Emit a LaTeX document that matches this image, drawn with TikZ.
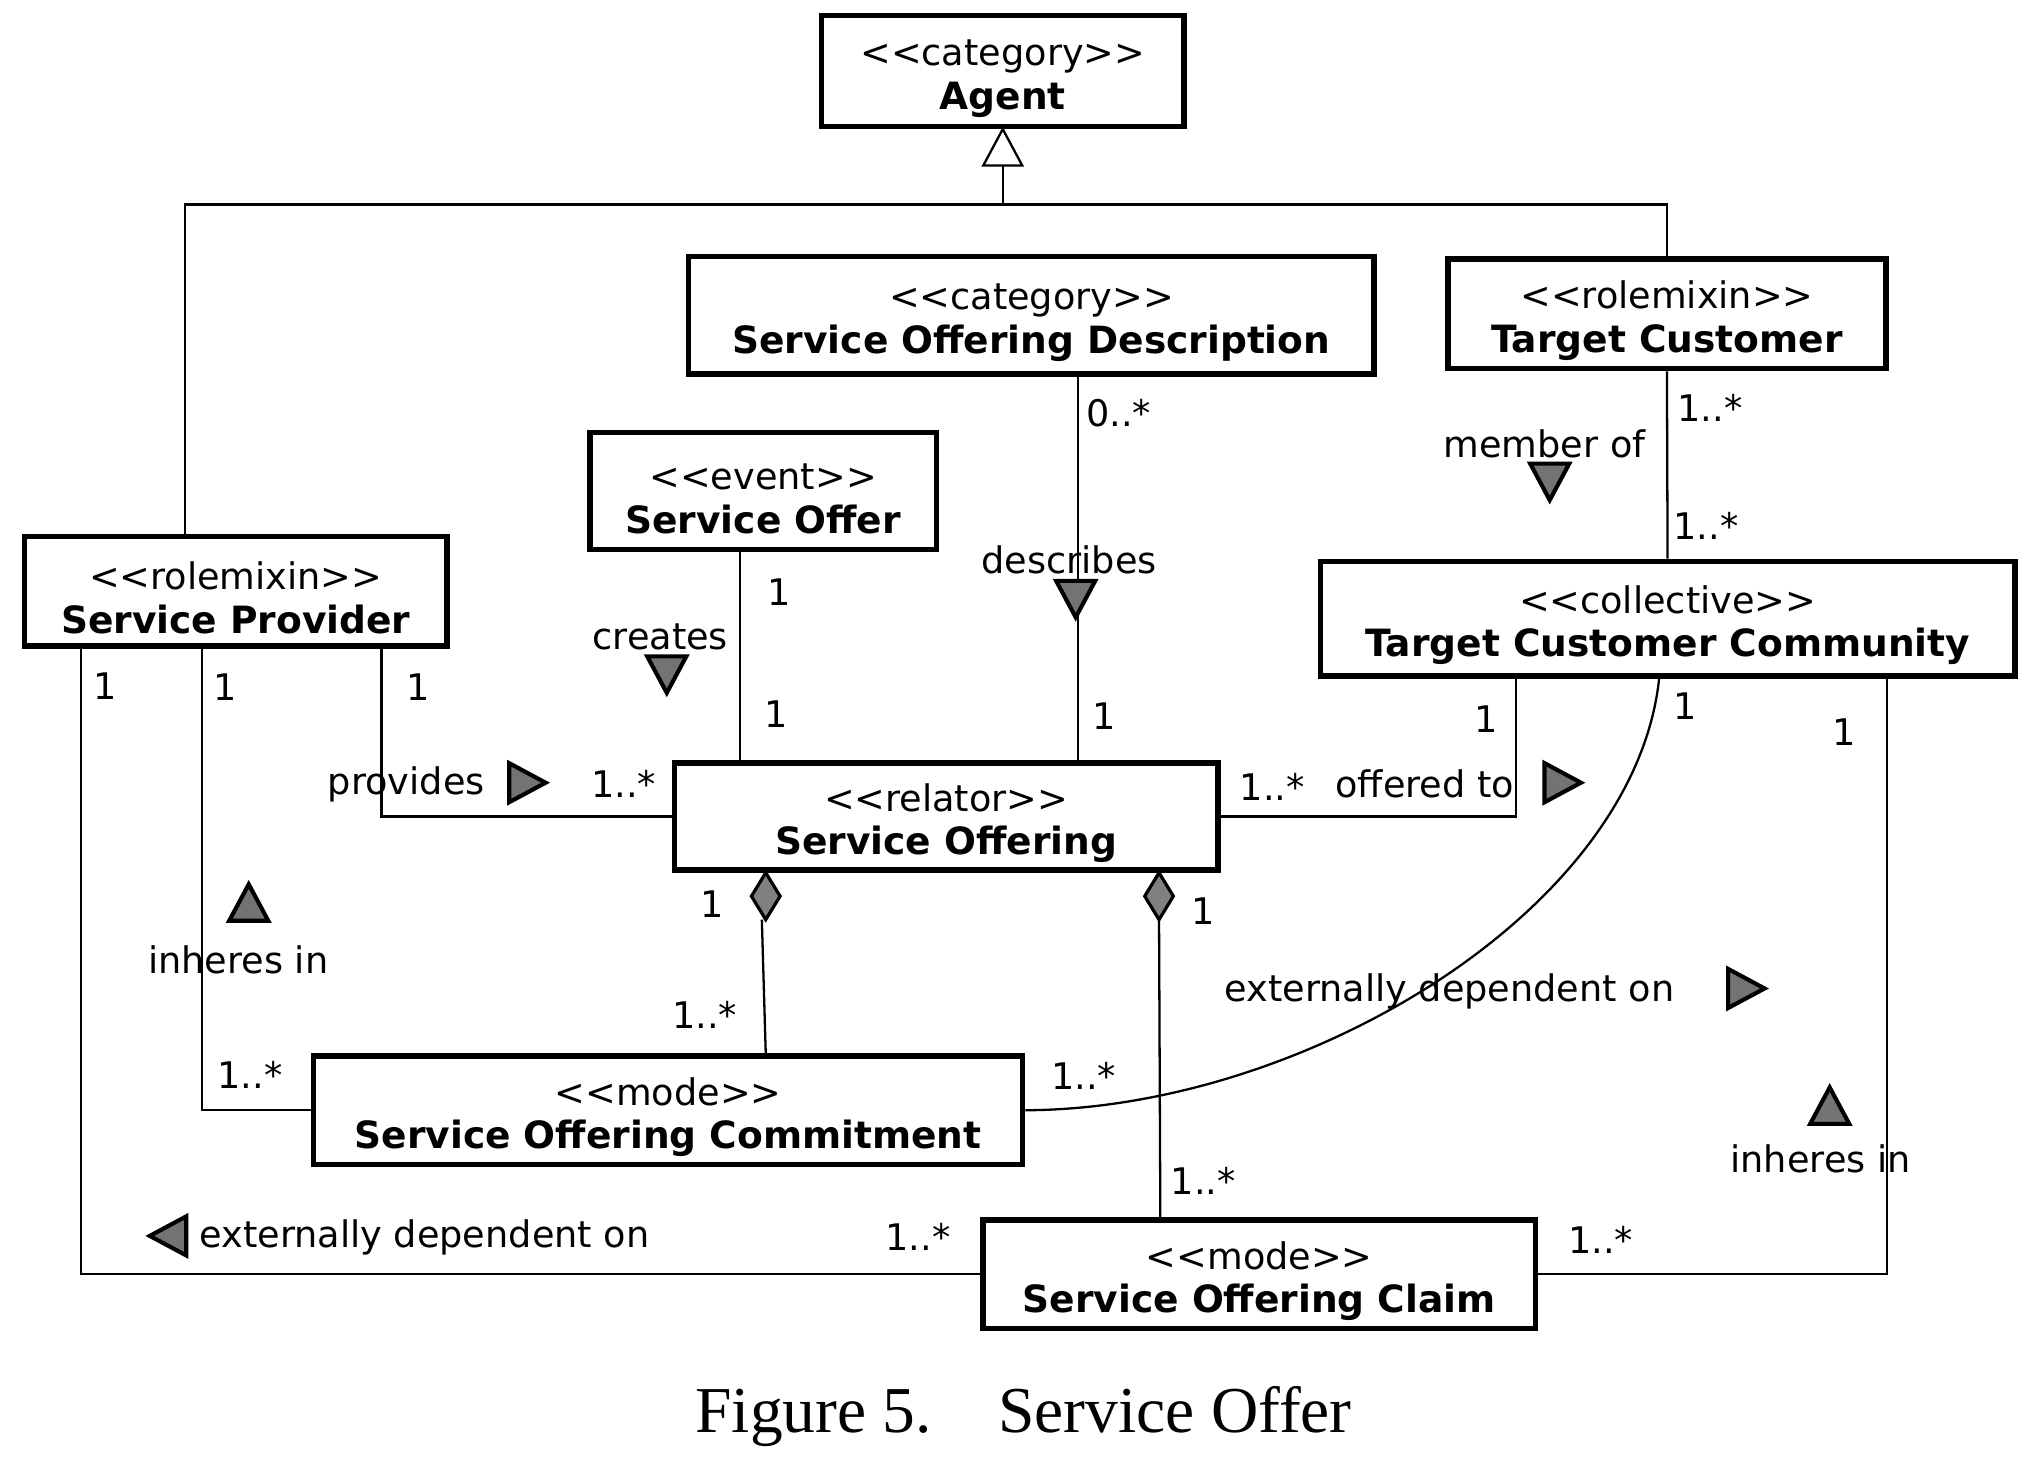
\documentclass[tikz,border=0pt]{standalone}
\usepackage{fontspec}
\setmainfont{DejaVu Sans}
\newfontfamily\capfont{Liberation Serif}
\usetikzlibrary{calc}
\newcommand\stt[1]{\rule{0pt}{9pt}<{}<#1>{}>}
\newcommand\nmm[1]{{\fontsize{8.2}{9.5}\selectfont\bfseries #1}}
\begin{document}
\begin{tikzpicture}[x=0.01cm,y=-0.01cm,
 box/.style={draw, line width=1.2pt, inner sep=0pt, align=center, fill=white, font=\fontsize{8}{9.5}\selectfont},
 conn/.style={line width=0.5pt},
 lab/.style={inner sep=0pt, font=\fontsize{8}{9.5}\selectfont},
 tri/.style={draw, line width=0.9pt, fill=black!55, line join=miter},
 dia/.style={draw, line width=0.7pt, fill=black!50},
 dtri/.pic={\draw[tri] (-12,-15) -- (16,0) -- (-12,15) -- cycle;}
]
\useasboundingbox (0,0) rectangle (1568,1120);

% boxes
\node[box, minimum width=2.78cm, minimum height=0.85cm] (agent) at (770,54.5) {\stt{category}\\\nmm{Agent}};
\node[box, minimum width=5.26cm, minimum height=0.90cm] (sod) at (792,242) {\stt{category}\\\nmm{Service Offering Description}};
\node[box, minimum width=3.36cm, minimum height=0.84cm] (tc) at (1280,241) {\stt{rolemixin}\\\nmm{Target Customer}};
\node[box, minimum width=2.66cm, minimum height=0.90cm] (sof) at (586,377) {\stt{event}\\\nmm{Service Offer}};
\node[box, minimum width=3.24cm, minimum height=0.84cm] (sp) at (181,454) {\stt{rolemixin}\\\nmm{Service Provider}};
\node[box, minimum width=5.33cm, minimum height=0.88cm] (tcc) at (1280.5,475) {\stt{collective}\\\nmm{Target Customer Community}};
\node[box, minimum width=4.17cm, minimum height=0.82cm] (so) at (726.5,627) {\stt{relator}\\\nmm{Service Offering}};
\node[box, minimum width=5.44cm, minimum height=0.83cm] (soc) at (513,852.5) {\stt{mode}\\\nmm{Service Offering Commitment}};
\node[box, minimum width=4.24cm, minimum height=0.83cm] (claim) at (967,978.5) {\stt{mode}\\\nmm{Service Offering Claim}};

% generalization
\coordinate (gbase) at ($(agent.south)+(0,28)$);
\draw[conn, fill=white] (agent.south) -- ($(gbase)+(-15,0)$) -- ($(gbase)+(15,0)$) -- cycle;
\draw[conn] (gbase) -- (gbase |- 0,157);
\draw[conn] (sp.north -| 142,0) -- (142,157) -| (tc.north);

% describes
\draw[conn] (sod.south -| 828,0) -- (so.north -| 828,0);
\node[lab] (l1) at (859,317) {0..*};
\node[lab] (l2) at (821,430) {describes};
\pic[rotate=-90] at (826,458) {dtri};
\node[lab] (l3) at (848,550) {1};

% creates
\draw[conn] (sof.south -| 568,0) -- (so.north -| 568,0);
\node[lab] (l4) at (598,455) {1};
\node[lab] (l5) at (596,548) {1};
\node[lab] (l6) at (507,489) {creates};
\pic[rotate=-90] at (512,516) {dtri};

% member of
\draw[conn] (tc.south) -- (tcc.north);
\node[lab] (l7) at (1313,313) {1..*};
\node[lab] (l8) at (1310,404) {1..*};
\node[lab] (l9) at (1186,341) {member of};
\pic[rotate=-90] at (1190,368) {dtri};

% provides
\draw[conn] (sp.south -| 293,0) |- (so.west);
\node[lab] (l10) at (321,528) {1};
\node[lab] (l11) at (312,602) {provides};
\pic at (403,601) {dtri};
\node[lab] (l12) at (479,602) {1..*};

% offered to
\draw[conn] (so.east) -| (tcc.south -| 1164,0);
\node[lab] (l13) at (977,604) {1..*};
\node[lab] (l14) at (1094,602) {offered to};
\pic at (1198,601) {dtri};
\node[lab] (l15) at (1141,552) {1};

% inheres in (left)
\draw[conn] (sp.south -| 155,0) |- (soc.west);
\node[lab] (l16) at (173,528) {1};
\node[lab] (l17) at (192,825) {1..*};
\node[lab] (l18) at (183,737) {inheres in};
\pic[rotate=90] at (191,695) {dtri};

% externally dependent on (bottom)
\draw[conn] (sp.south -| 62,0) |- (claim.west);
\node[lab] (l19) at (81,527) {1};
\node[lab] (l20) at (705,950) {1..*};
\node[lab] (l21) at (326,950) {externally dependent on};
\pic[rotate=180] at (131,949) {dtri};

% compositions
\coordinate (d1) at (so.south -| 588,0);
\draw[conn] ($(d1)+(-3,36)$) -- (soc.north -| 588,0);
\draw[dia] (d1) -- ++(11,18) -- ++(-11,18) -- ++(-11,-18) -- cycle;
\node[lab] (l22) at (547,694) {1};
\node[lab] (l23) at (541,779) {1..*};

\coordinate (d2) at (so.south -| 890,0);
\draw[conn] ($(d2)+(0,36)$) -- (claim.north -| 891,0);
\draw[dia] (d2) -- ++(11,18) -- ++(-11,18) -- ++(-11,-18) -- cycle;
\node[lab] (l24) at (924,700) {1};
\node[lab] (l25) at (924,907) {1..*};

% externally dependent on (curve)
\draw[conn] (tcc.south -| 1274,0) .. controls (1255,700) and (1000,852) .. (soc.east);
\node[lab] (l26) at (1294,542) {1};
\node[lab] (l27) at (832,826) {1..*};
\node[lab] (l28) at (1113,761) {externally dependent on};
\pic at (1339,759) {dtri};

% inheres in (right)
\draw[conn] (tcc.south -| 1449,0) |- (claim.east);
\node[lab] (l29) at (1416,562) {1};
\node[lab] (l30) at (1229,952) {1..*};
\node[lab] (l31) at (1398,890) {inheres in};
\pic[rotate=90] at (1405,851) {dtri};

% caption
\node[inner sep=0pt, anchor=base, font=\capfont\fontsize{14.3}{16}\selectfont] (cap) at (786,1100) {Figure 5.\hspace{14.5pt}Service Offer};
\end{tikzpicture}
\end{document}
